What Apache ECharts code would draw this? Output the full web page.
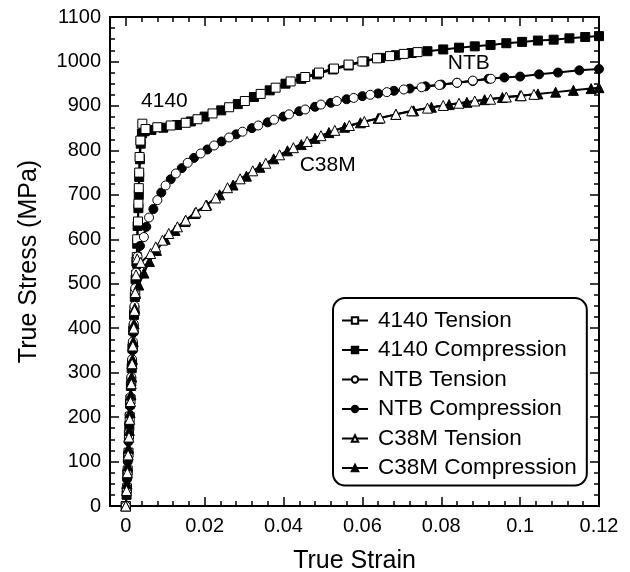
<!DOCTYPE html>
<html>
<head>
<meta charset="utf-8">
<script src="https://cdn.jsdelivr.net/npm/echarts@6/dist/echarts.min.js"></script>
<style>
  html, body { margin: 0; padding: 0; background: #fff; }
  #chart { width: 630px; height: 572px; }
</style>
</head>
<body>
<div id="chart"></div>
<script>
// [true strain, true stress MPa]
const t4140 = [
  [0, 0], [0.0003, 40], [0.0005, 80], [0.0007, 120], [0.0008, 160], [0.001, 200], [0.0012, 240],
  [0.0014, 280], [0.0016, 320], [0.0018, 360], [0.002, 400], [0.0022, 440], [0.0024, 480],
  [0.0026, 520], [0.0028, 560], [0.0029, 600], [0.0031, 640], [0.0032, 680], [0.0033, 715],
  [0.0034, 750], [0.0035, 785], [0.0037, 822], [0.0042, 860],
  [0.005, 848], [0.008, 852], [0.0114, 856], [0.0152, 862], [0.0182, 870], [0.022, 883],
  [0.0262, 897], [0.0302, 911], [0.0342, 927], [0.038, 941], [0.0418, 955], [0.0455, 965],
  [0.049, 975], [0.0528, 984], [0.0565, 993], [0.06, 1000], [0.0637, 1007], [0.067, 1012],
  [0.0705, 1017], [0.074, 1021]
];
const c4140 = [
  [0, 0], [0.0002, 25], [0.0004, 70], [0.0006, 110], [0.0009, 180], [0.0011, 230], [0.0013, 270],
  [0.0015, 310], [0.0017, 355], [0.0019, 395], [0.0021, 430], [0.0023, 470], [0.0025, 510],
  [0.0027, 550], [0.0029, 590], [0.003, 630], [0.0032, 670], [0.0033, 700], [0.0034, 740],
  [0.0036, 780], [0.0038, 815], [0.0041, 838],
  [0.0048, 843], [0.0065, 846], [0.0095, 851], [0.013, 857], [0.0165, 865], [0.02, 876],
  [0.0242, 890], [0.0284, 904], [0.0325, 920], [0.0365, 935], [0.0405, 950], [0.0445, 961],
  [0.0485, 971], [0.0525, 982], [0.0565, 991], [0.0605, 1000], [0.0645, 1008], [0.0685, 1014],
  [0.0725, 1019], [0.0765, 1023], [0.0805, 1027], [0.0845, 1031], [0.0885, 1034], [0.0925, 1037],
  [0.0965, 1041], [0.1005, 1044], [0.1045, 1047], [0.1085, 1049], [0.1125, 1052], [0.1165, 1055],
  [0.12, 1057]
];
const tNTB = [
  [0, 0], [0.0002, 40], [0.0004, 80], [0.0006, 120], [0.0008, 165], [0.001, 205], [0.0012, 245],
  [0.0014, 290], [0.0016, 330], [0.0018, 370], [0.002, 410], [0.0022, 450], [0.0024, 490],
  [0.0026, 525], [0.003, 561],
  [0.0046, 605], [0.0059, 649], [0.008, 688], [0.0101, 721], [0.0127, 748], [0.0157, 772],
  [0.019, 793], [0.0224, 811], [0.0262, 829], [0.0296, 842], [0.0336, 856], [0.0376, 869],
  [0.0414, 881], [0.0455, 892], [0.0495, 903], [0.0535, 911], [0.0578, 918], [0.062, 925],
  [0.0662, 931], [0.0705, 937], [0.075, 942], [0.0795, 947], [0.084, 952], [0.088, 957],
  [0.0926, 961]
];
const cNTB = [
  [0, 0], [0.0003, 60], [0.0005, 100], [0.0007, 145], [0.0009, 185], [0.0011, 225], [0.0013, 270],
  [0.0015, 310], [0.0017, 350], [0.0019, 390], [0.0021, 430], [0.0023, 470], [0.0025, 505],
  [0.0028, 540],
  [0.0036, 585], [0.0052, 628], [0.007, 668], [0.009, 705], [0.0114, 735], [0.0142, 760],
  [0.0173, 783], [0.0207, 802], [0.0243, 820], [0.028, 836], [0.032, 850], [0.036, 863],
  [0.04, 876], [0.044, 888], [0.048, 898], [0.052, 907], [0.056, 915], [0.06, 922], [0.064, 928],
  [0.068, 934], [0.072, 939], [0.076, 944], [0.08, 948], [0.084, 952], [0.088, 956], [0.092, 961],
  [0.096, 964], [0.1, 966], [0.1048, 971], [0.1096, 975], [0.115, 980], [0.12, 983]
];
const tC38M = [
  [0, 0], [0.0002, 35], [0.0004, 75], [0.0006, 115], [0.0008, 155], [0.001, 195], [0.0012, 235],
  [0.0014, 275], [0.0016, 320], [0.0018, 360], [0.002, 400], [0.0022, 440], [0.0024, 480],
  [0.0026, 520], [0.0029, 556],
  [0.0038, 548], [0.0063, 568], [0.0076, 583], [0.0093, 598], [0.0109, 613], [0.0131, 628],
  [0.0152, 643], [0.0178, 661], [0.0203, 676], [0.0228, 693], [0.0258, 716], [0.029, 736],
  [0.0322, 754], [0.0355, 771], [0.039, 790], [0.0425, 806], [0.046, 820], [0.0495, 833],
  [0.053, 845], [0.0567, 856], [0.0605, 865], [0.0645, 873], [0.0685, 881], [0.0725, 889],
  [0.0765, 895], [0.0805, 901], [0.0845, 906], [0.0885, 911], [0.0925, 915], [0.0965, 920],
  [0.1003, 923], [0.1035, 926]
];
const cC38M = [
  [0, 0], [0.0003, 50], [0.0005, 90], [0.0007, 130], [0.0009, 170], [0.0011, 210], [0.0013, 250],
  [0.0015, 290], [0.0017, 330], [0.0019, 370], [0.0021, 410], [0.0023, 445], [0.0025, 478],
  [0.0033, 497], [0.0046, 524], [0.006, 550], [0.0078, 575], [0.01, 600], [0.0125, 620],
  [0.015, 640], [0.0175, 658], [0.0205, 677], [0.0238, 700], [0.0272, 722], [0.0306, 742],
  [0.034, 762], [0.0375, 781], [0.041, 799], [0.0445, 813], [0.048, 827], [0.0515, 840],
  [0.0555, 852], [0.0595, 862], [0.064, 872], [0.0685, 881], [0.073, 889], [0.0775, 897],
  [0.082, 903], [0.0865, 908], [0.091, 914], [0.0955, 919], [0.1, 923], [0.1045, 927],
  [0.109, 931], [0.1135, 935], [0.118, 939], [0.12, 941]
];

const xMajor = [0, 0.02, 0.04, 0.06, 0.08, 0.1, 0.12];
const xMinor = [-0.004, 0.004, 0.008, 0.012, 0.016, 0.024, 0.028, 0.032, 0.036, 0.044, 0.048,
  0.052, 0.056, 0.064, 0.068, 0.072, 0.076, 0.084, 0.088, 0.092, 0.096, 0.104, 0.108, 0.112, 0.116];

const annoText = ["4140", "NTB", "C38M"];
const annoX = [0.0098, 0.087, 0.0512];
const annoY = [910, 995, 766];

const FONT = "'Liberation Sans', Arial, Helvetica, sans-serif";
const chart = echarts.init(document.getElementById("chart"));

function xAx(pos, ticks, len, labels) {
  return {
    type: "value",
    position: pos,
    min: -0.004,
    max: 0.12,
    axisLine: { show: true, onZero: false, lineStyle: { color: "#000", width: 2 } },
    axisTick: { show: true, inside: true, length: len, customValues: ticks, lineStyle: { color: "#000", width: 1.5 } },
    axisLabel: labels
      ? {
          show: true, customValues: xMajor, color: "#000", fontSize: 20, fontFamily: FONT, margin: 10,
          formatter: (v) => (v === 0 ? "0" : String(+v.toFixed(2)))
        }
      : { show: false },
    splitLine: { show: false },
    name: labels ? "True Strain" : "",
    nameLocation: "middle",
    nameGap: 43,
    nameTextStyle: { color: "#000", fontSize: 25, fontFamily: FONT }
  };
}

function yAx(pos, labels) {
  return {
    type: "value",
    position: pos,
    min: 0,
    max: 1100,
    interval: 100,
    axisLine: { show: true, onZero: false, lineStyle: { color: "#000", width: 2 } },
    axisTick: { show: true, inside: true, length: 9, lineStyle: { color: "#000", width: 1.5 } },
    minorTick: { show: true, splitNumber: 4, length: 5, lineStyle: { color: "#000", width: 1.5 } },
    axisLabel: labels
      ? { show: true, color: "#000", fontSize: 20, fontFamily: FONT, margin: 9, formatter: (v) => String(v) }
      : { show: false },
    splitLine: { show: false },
    name: labels ? "True Stress (MPa)" : "",
    nameLocation: "middle",
    nameGap: 68,
    nameTextStyle: { color: "#000", fontSize: 25, fontFamily: FONT }
  };
}

function mkSeries(name, data, symbol, filled) {
  return {
    name: name,
    type: "line",
    data: data,
    symbol: symbol,
    symbolSize: symbol === "triangle" ? 10 : 9,
    showAllSymbol: true,
    lineStyle: { color: "#000", width: 2 },
    itemStyle: { color: filled ? "#000" : "#fff", borderColor: "#000", borderWidth: 1 },
    emphasis: { disabled: true }
  };
}

chart.setOption({
  animation: false,
  backgroundColor: "#fff",
  grid: { left: 110, right: 31, top: 17, bottom: 66, containLabel: false, outerBoundsMode: "none" },
  xAxis: [
    xAx("bottom", xMajor, 9, true),
    xAx("bottom", xMinor, 5, false),
    xAx("top", xMajor, 9, false),
    xAx("top", xMinor, 5, false)
  ],
  yAxis: [yAx("left", true), yAx("right", false)],
  legend: {
    orient: "vertical",
    left: 333,
    top: 298,
    padding: [11, 10, 6, 8],
    itemGap: 6.5,
    itemWidth: 26,
    itemHeight: 8,
    borderColor: "#000",
    borderWidth: 2,
    borderRadius: 12,
    backgroundColor: "#fff",
    selectedMode: false,
    textStyle: { color: "#000", fontSize: 22.5, fontFamily: FONT, lineHeight: 22.5, padding: [0, 0, 0, 5] },
    data: ["4140 Tension", "4140 Compression", "NTB Tension", "NTB Compression", "C38M Tension", "C38M Compression"]
  },
  series: [
    mkSeries("4140 Compression", c4140, "rect", true),
    mkSeries("4140 Tension", t4140, "rect", false),
    mkSeries("NTB Compression", cNTB, "circle", true),
    mkSeries("NTB Tension", tNTB, "circle", false),
    mkSeries("C38M Compression", cC38M, "triangle", true),
    mkSeries("C38M Tension", tC38M, "triangle", false),
    {
      type: "scatter",
      symbolSize: 0,
      silent: true,
      itemStyle: { color: "#000", opacity: 1 },
      data: annoText.map((t, i) => ({ name: t, value: [annoX[i], annoY[i]] })),
      label: {
        show: true,
        position: [0, 0],
        align: "center",
        verticalAlign: "middle",
        formatter: (p) => p.name,
        color: "#000",
        textBorderWidth: 0,
        fontSize: 21,
        fontFamily: FONT
      }
    }
  ]
});
</script>
</body>
</html>
